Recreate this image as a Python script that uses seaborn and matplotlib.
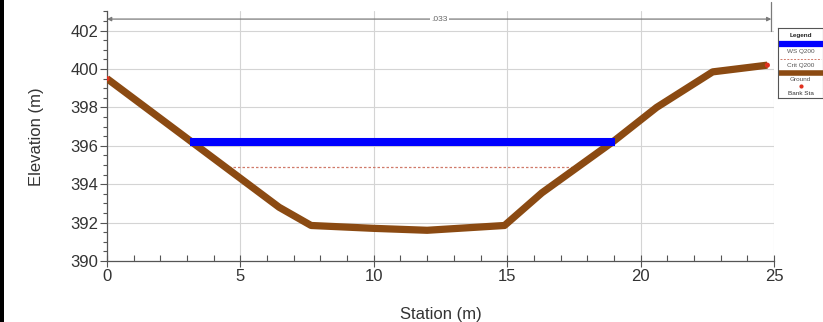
import matplotlib
matplotlib.use("Agg")
import matplotlib.pyplot as plt
import seaborn as sns
import pandas as pd
from matplotlib.ticker import MultipleLocator
from matplotlib.patches import Rectangle

# ---- data ----
ground_station = [0.0, 6.45, 7.65, 10.0, 12.0, 14.9, 16.3, 19.0, 20.6, 22.7, 24.75]
ground_elev = [399.5, 392.8, 391.85, 391.7, 391.6, 391.85, 393.55, 396.25, 398.0, 399.85, 400.2]
ws_station = [3.1, 19.05]
ws_elev = [396.2, 396.2]
crit_station = [4.4, 17.6]
crit_elev = [394.9, 394.9]
bank_station = [0.0, 24.75]
bank_elev = [399.5, 400.2]
n_value_label = ".033"
n_range = [0.0, 24.9]
legend_labels = ["WS Q200", "Crit Q200", "Ground", "Bank Sta"]

sns.set_theme(style="white")
plt.rcParams['font.family'] = ['Liberation Sans', 'DejaVu Sans']

fig = plt.figure(figsize=(8.23, 3.22), dpi=100)
ax = fig.add_axes([107/823, 61/322, (774-107)/823, 249.6/322])

ground_df = pd.DataFrame({"Station": ground_station, "Elevation": ground_elev})
sns.lineplot(data=ground_df, x="Station", y="Elevation", sort=False, ax=ax,
             color="#8b4a12", linewidth=5.2, zorder=3, solid_capstyle="butt")
sns.lineplot(x=crit_station, y=crit_elev, ax=ax, color="#d07a6a", linewidth=0.9,
             linestyle=(0, (2.0, 1.6)), zorder=2)
sns.lineplot(x=ws_station, y=ws_elev, ax=ax, color="#0000ff", linewidth=5.8,
             zorder=4, solid_capstyle="butt")
sns.scatterplot(x=bank_station, y=bank_elev, ax=ax, color="#e0301e", s=14,
                edgecolor="none", zorder=5)

ax.set_xlim(0, 25)
ax.set_ylim(390, 403)
ax.xaxis.set_major_locator(MultipleLocator(5))
ax.xaxis.set_minor_locator(MultipleLocator(1))
ax.yaxis.set_major_locator(MultipleLocator(2))
ax.yaxis.set_minor_locator(MultipleLocator(0.5))
ax.grid(True, which="major", color="#d4d4d4", linewidth=0.8)
ax.set_axisbelow(True)
for s in ["top", "right"]:
    ax.spines[s].set_visible(False)
for s in ["left", "bottom"]:
    ax.spines[s].set_color("#555555")
    ax.spines[s].set_linewidth(0.9)
ax.tick_params(axis="y", which="major", direction="out", length=5, width=0.8,
               color="#555555", labelsize=12, labelcolor="#333333", pad=1, left=True)
ax.tick_params(axis="y", which="minor", direction="out", length=3, width=0.8,
               color="#555555", left=True)
ax.tick_params(axis="x", which="major", direction="inout", length=8, width=0.8,
               color="#555555", labelsize=12, labelcolor="#333333", pad=2, bottom=True)
ax.tick_params(axis="x", which="minor", direction="in", length=4, width=0.8,
               color="#555555", bottom=True)
ax.set_xlabel("Station (m)", fontsize=12, color="#333333", labelpad=16)
ax.set_ylabel("Elevation (m)", fontsize=12, color="#333333", labelpad=19)

# Manning's n dimension line
ax.annotate("", xy=(n_range[0], 402.6), xytext=(n_range[1], 402.6),
            arrowprops=dict(arrowstyle="<|-|>", color="#7a7a7a", lw=0.9,
                            mutation_scale=6, shrinkA=0, shrinkB=0),
            annotation_clip=False)
ax.plot([n_range[1], n_range[1]], [402.0, 403.5], color="#7a7a7a", lw=0.9, clip_on=False)
ax.text(sum(n_range)/2, 402.6, n_value_label, ha="center", va="center", fontsize=6,
        color="#666666", bbox=dict(facecolor="white", edgecolor="none", pad=1.0))

# Legend box (drawn as a tiny inset, like the original)
lax = fig.add_axes([778/823, (322-98)/322, 45/823, 70/322])
lax.set_xlim(0, 1)
lax.set_ylim(0, 1)
lax.set_xticks([])
lax.set_yticks([])
for s in lax.spines.values():
    s.set_color("#555555")
    s.set_linewidth(0.8)
lax.set_facecolor("white")
fs = 4.6
lax.text(0.5, 0.9, "Legend", ha="center", va="center", fontsize=fs, color="#222222",
         fontweight="bold")
lax.plot([0.0, 1.0], [0.77, 0.77], color="#0000ff", lw=4.5)
lax.text(0.5, 0.67, legend_labels[0], ha="center", va="center", fontsize=fs, color="#555555")
lax.plot([0.05, 0.95], [0.56, 0.56], color="#d07a6a", lw=0.7, linestyle=(0, (2, 1.5)))
lax.text(0.5, 0.47, legend_labels[1], ha="center", va="center", fontsize=fs, color="#555555")
lax.plot([0.0, 1.0], [0.36, 0.36], color="#8b4a12", lw=4)
lax.text(0.5, 0.27, legend_labels[2], ha="center", va="center", fontsize=fs, color="#555555")
lax.plot([0.5], [0.17], marker="o", color="#e0301e", markersize=2)
lax.text(0.5, 0.07, legend_labels[3], ha="center", va="center", fontsize=fs, color="#333333")

# black strip at left edge of the screenshot
fig.patches.append(Rectangle((0, 0), 4/823, 1, transform=fig.transFigure,
                             facecolor="black", edgecolor="none", zorder=10))

fig.savefig("out.png", dpi=100)
